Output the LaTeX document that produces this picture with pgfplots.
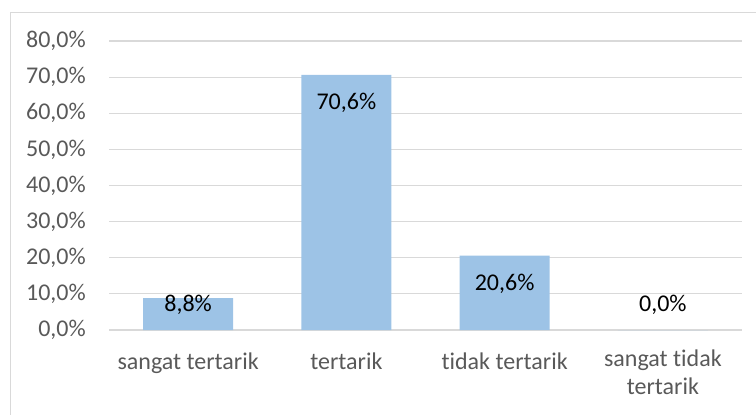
\documentclass[border=0pt]{standalone}
\usepackage{pgfplots}
\pgfplotsset{compat=1.18}
\usepackage{fontspec}
\setmainfont{Carlito}[Ligatures=NoCommon]
\definecolor{barblue}{RGB}{157,195,230}
\definecolor{gridgray}{RGB}{217,217,217}
\definecolor{ticktext}{RGB}{89,89,89}
\begin{document}
\begin{tikzpicture}[x=0.75pt,y=0.75pt]
\useasboundingbox (0,0) rectangle (756,-414);
% chart area border (runs off the page on right and bottom)
\draw[gridgray, line width=0.75pt] (10,-12) rectangle (800,-500);
\coordinate (plotorigin) at (109,-330);
\begin{axis}[
  at={(plotorigin)}, anchor=south west,
  scale only axis,
  width=474.75pt, height=216.75pt,
  xmin=-0.5, xmax=3.5,
  ymin=0, ymax=80,
  clip=false,
  axis line style={draw=none},
  major tick length=0pt,
  ymajorgrids,
  grid style={gridgray, line width=0.9pt},
  ytick={0,10,...,80},
  xtick={0,1,2,3},
  xticklabels={sangat tertarik, tertarik, tidak tertarik, {sangat tidak\\tertarik}},
  /pgf/number format/assume math mode=true,
  yticklabel={\pgfmathprintnumber[fixed,fixed zerofill,precision=1,use comma]{\tick}\%},
  tick label style={font=\fontsize{18}{21}\selectfont, text=ticktext, inner sep=0pt},
  yticklabel style={anchor=east, xshift=-17.25pt},
  xticklabel style={align=center, anchor=north, yshift=-14.55pt,
    execute at begin node=\strut},
]
\addplot[
  ybar, bar width=67.5pt, fill=barblue, draw=none,
  point meta=rawy,
  visualization depends on={rawy \as \rawy},
  nodes near coords={\pgfmathprintnumber[fixed,fixed zerofill,precision=1,use comma]{\pgfplotspointmeta}\%},
  every node near coord/.append style={
    font=\fontsize{18}{21}\selectfont, text=black, inner sep=0pt,
    anchor=center, yshift={max(-21pt,18.75pt-\rawy*2.709pt)}},
] coordinates {
  (0,8.8) (1,70.6) (2,20.6) (3,0.0)
};
\end{axis}
\end{tikzpicture}
\end{document}
